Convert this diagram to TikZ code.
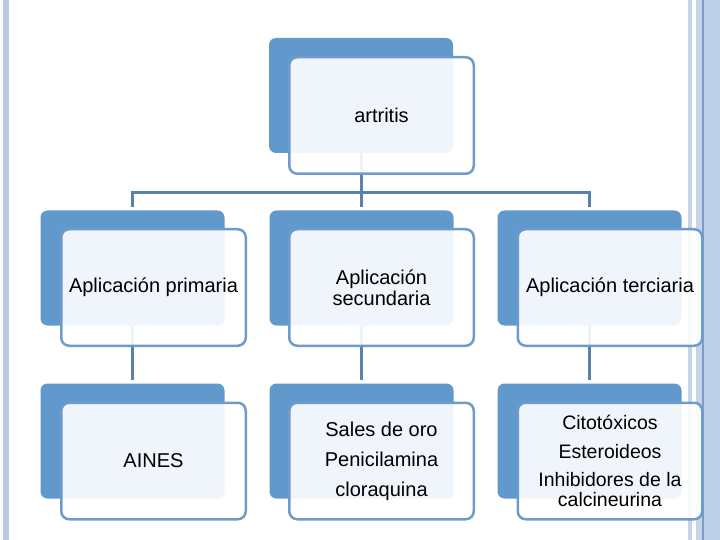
\documentclass[tikz,border=0pt]{standalone}
\usepackage{fontspec}
\setmainfont{Liberation Sans}
\usetikzlibrary{backgrounds}
\definecolor{backblue}{HTML}{6199CD}
\definecolor{cardedge}{HTML}{6F9BC9}
\definecolor{linkblue}{HTML}{5B81A8}
\definecolor{stripe}{HTML}{C4D5EA}
\definecolor{stripedark}{HTML}{7E9DC6}
\definecolor{stripemid}{HTML}{BCCFE7}
\definecolor{leftband}{HTML}{BACBE1}
\begin{document}
\begin{tikzpicture}[x=1pt,y=-1pt,
  backbox/.style={draw=none, fill=backblue, rounded corners=7pt, minimum width=184pt, minimum height=115pt, inner sep=0pt},
  frontbox/.style={draw=cardedge, line width=2.5pt, fill=white, fill opacity=0.9, text opacity=1, rounded corners=8pt, minimum width=184.5pt, minimum height=116.5pt, inner sep=0pt, align=center, font=\fontsize{20}{21}\selectfont},
  link/.style={draw=linkblue, line width=3pt}]
\useasboundingbox (0,0) rectangle (720,540);
% page decoration
\fill[leftband] (3,0) rectangle (9,540);
\fill[stripe] (688,0) rectangle (692,540);
\fill[stripe] (696,0) rectangle (702,540);
\fill[stripemid] (703.5,0) rectangle (720,540);
\fill[stripedark] (702,0) rectangle (703.5,540);
\fill[stripe!90!stripedark] (709,0) rectangle (710.5,540);
% back boxes
\node[backbox] (b0) at (361,95.5) {};
\node[backbox] (b1) at (132.5,268) {};
\node[backbox] (b2) at (361.5,268) {};
\node[backbox] (b3) at (589.5,268) {};
\node[backbox] (b4) at (132.5,441) {};
\node[backbox] (b5) at (361.5,441) {};
\node[backbox] (b6) at (589.5,441) {};
% front cards
\node[frontbox] (f0) at (381.5,115.5) {artritis};
\node[frontbox] (f1) at (153.5,287.5) {Aplicación primaria};
\node[frontbox] (f2) at (381.5,287.5) {Aplicación\\secundaria};
\node[frontbox] (f3) at (610,287.5) {Aplicación terciaria};
\node[frontbox] (f4) at (153.5,461) {AINES};
\node[frontbox] (f5) at (381.5,461) {Sales de oro\\[9pt]Penicilamina\\[9pt]cloraquina};
\node[frontbox, font=\fontsize{19.5}{19.5}\selectfont] (f6) at (610,461) {Citotóxicos\\[9pt]Esteroideos\\[9pt]Inhibidores de la\\calcineurina};
% connectors
\coordinate (j) at (361,193);
\begin{scope}[on background layer]
\draw[link] (b0.south) -- (j);
\draw[link, shorten >=3pt] (j) -| (b1.north);
\draw[link, shorten >=3pt] (j) -| (b2.north);
\draw[link, shorten >=3pt] (j) -| (b3.north);
\draw[link, shorten >=3pt] (b1.south) -- (b4.north);
\draw[link, shorten >=3pt] (b2.south) -- (b5.north);
\draw[link, shorten >=3pt] (b3.south) -- (b6.north);
\end{scope}
\end{tikzpicture}
\end{document}
